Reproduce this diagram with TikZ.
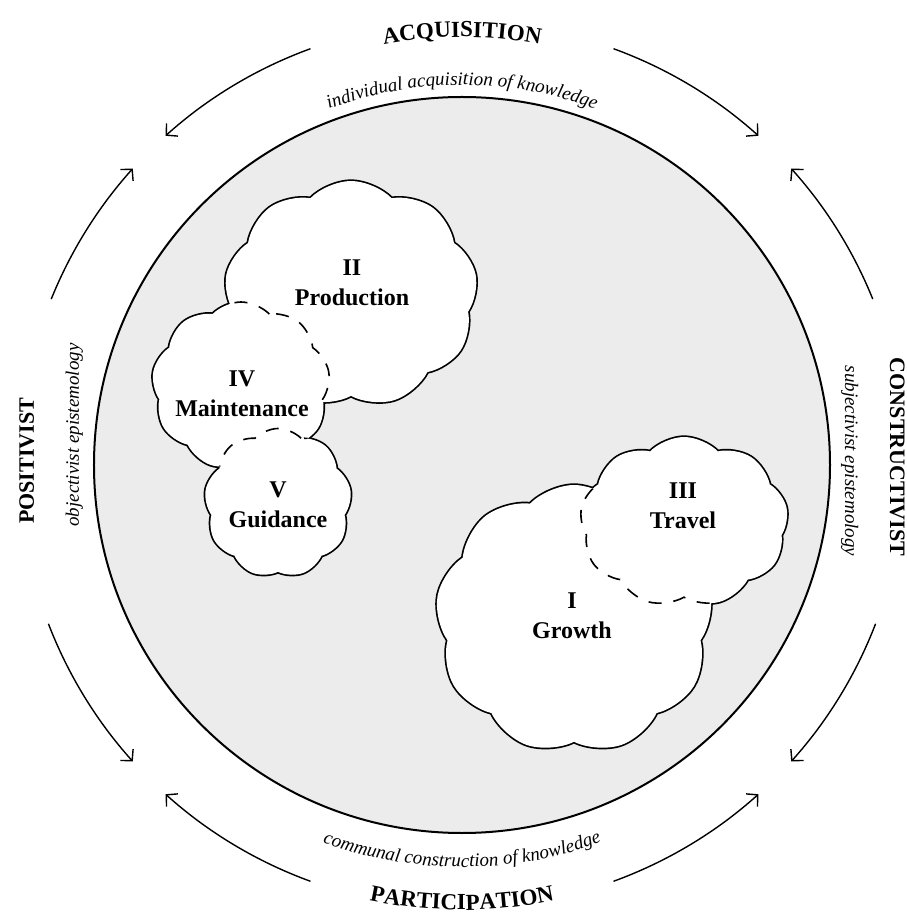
\documentclass[tikz,border=0pt]{standalone}
\usepackage{fontspec}
\setmainfont{Liberation Serif}
\usetikzlibrary{shapes.symbols,decorations.text,arrows.meta}
\definecolor{discgray}{RGB}{236,236,236}
\begin{document}
\begin{tikzpicture}[x=1pt,y=1pt,
  bend arrow/.style={line width=1.4pt,-{Straight Barb[length=8pt,width=17pt,line width=1.4pt]}},
  blob/.style={cloud, cloud puffs=9, cloud puff arc=92, cloud ignores aspect, inner sep=0pt, outer sep=0pt},
  blobline/.style={blob, draw, line width=3.4pt},
  blobfill/.style={blob, fill=white},
  dashline/.style={blob, draw, line width=1.6pt, dash pattern=on 13pt off 12pt},
  lbl/.style={font=\fontsize{24}{30}\selectfont\bfseries, align=center},
  bigcap/.style={font=\fontsize{22}{22}\selectfont\bfseries},
  ital/.style={font=\fontsize{19}{19}\selectfont\itshape},
  prodsz/.style={minimum width=253pt, minimum height=226pt},
  maintsz/.style={minimum width=178pt, minimum height=168pt},
  guidsz/.style={minimum width=147pt, minimum height=149pt},
  travsz/.style={minimum width=208pt, minimum height=170pt},
  growsz/.style={minimum width=277pt, minimum height=268pt},
]
\useasboundingbox (-462,-455) rectangle (444,465);

% disc
\node[circle, draw, line width=2pt, fill=discgray, minimum size=736pt, inner sep=0pt] (disc) at (0,0) {};

% cloud centres
\coordinate (prodc) at (-111,171);
\coordinate (maintc) at (-221,79);
\coordinate (guidc) at (-184,-38);
\coordinate (travc) at (222,-57);
\coordinate (growc) at (112,-154);

% outlines (outer half stays visible)
\node[blobline, prodsz] (prodo) at (prodc) {};
\node[blobline, maintsz] (mainto) at (maintc) {};
\node[blobline, guidsz] (guido) at (guidc) {};
\node[blobline, travsz] (travo) at (travc) {};
\node[blobline, growsz] (growo) at (growc) {};

% white fills
\node[blobfill, prodsz] (prod) at (prodc) {};
\node[blobfill, maintsz] (maint) at (maintc) {};
\node[blobfill, guidsz] (guid) at (guidc) {};
\node[blobfill, travsz] (trav) at (travc) {};
\node[blobfill, growsz] (grow) at (growc) {};

% dashed hidden borders
\node[blob, prodsz, path picture={\node[dashline, maintsz] (maintd) at (maintc) {};}] (prodk) at (prodc) {};
\node[blob, maintsz, path picture={\node[dashline, guidsz] (guidd) at (guidc) {};}] (maintk) at (maintc) {};
\node[blob, growsz, path picture={\node[dashline, travsz] (travd) at (travc) {};}] (growk) at (growc) {};

% labels
\node[lbl] (prodl) at (-110,182) {II\\Production};
\node[lbl] (maintl) at (-220,71) {IV\\Maintenance};
\node[lbl] (guidl) at (-184,-40) {V\\Guidance};
\node[lbl] (travl) at (221,-41) {III\\Travel};
\node[lbl] (growl) at (110,-151) {I\\Growth};

% outer arrows
\coordinate (a1) at (110:443); \coordinate (a2) at (70:443);
\coordinate (a3) at (158:443); \coordinate (a4) at (201:443);
\coordinate (a5) at (250:443); \coordinate (a6) at (290:443);
\coordinate (a7) at (22:443);  \coordinate (a8) at (339:443);
\draw[bend arrow] (a1) arc[start angle=110, end angle=132, radius=443];
\draw[bend arrow] (a2) arc[start angle=70, end angle=48, radius=443];
\draw[bend arrow] (a3) arc[start angle=158, end angle=138, radius=443];
\draw[bend arrow] (a4) arc[start angle=201, end angle=222, radius=443];
\draw[bend arrow] (a5) arc[start angle=250, end angle=228, radius=443];
\draw[bend arrow] (a6) arc[start angle=290, end angle=312, radius=443];
\draw[bend arrow] (a7) arc[start angle=22, end angle=42, radius=443];
\draw[bend arrow] (a8) arc[start angle=339, end angle=318, radius=443];

% curved texts
\path[decorate, decoration={text along path, text align=center,
  text={|\fontsize{23}{23}\selectfont\bfseries|ACQUISITION}}]
  (135:428) arc[start angle=135, end angle=45, radius=428];
\path[decorate, decoration={text along path, text align=center,
  text={|\fontsize{19}{19}\selectfont\itshape|individual acquisition of knowledge}}]
  (135:380) arc[start angle=135, end angle=45, radius=380];
\path[decorate, decoration={text along path, text align=center,
  text={|\fontsize{19}{19}\selectfont\itshape|communal construction of knowledge}}]
  (225:402) arc[start angle=225, end angle=315, radius=402];
\path[decorate, decoration={text along path, text align=center,
  text={|\fontsize{23}{23}\selectfont\bfseries|PARTICIPATION}}]
  (225:445) arc[start angle=225, end angle=315, radius=445];

% side texts
\node[bigcap, rotate=90, anchor=base] (posit) at (-428,4) {POSITIVIST};
\node[ital, rotate=90, anchor=base] (objep) at (-383,30) {objectivist epistemology};
\node[bigcap, rotate=-90, anchor=base] (constr) at (428,8) {CONSTRUCTIVIST};
\node[ital, rotate=-90, anchor=base] (subjep) at (383,4) {subjectivist epistemology};
\end{tikzpicture}
\end{document}
